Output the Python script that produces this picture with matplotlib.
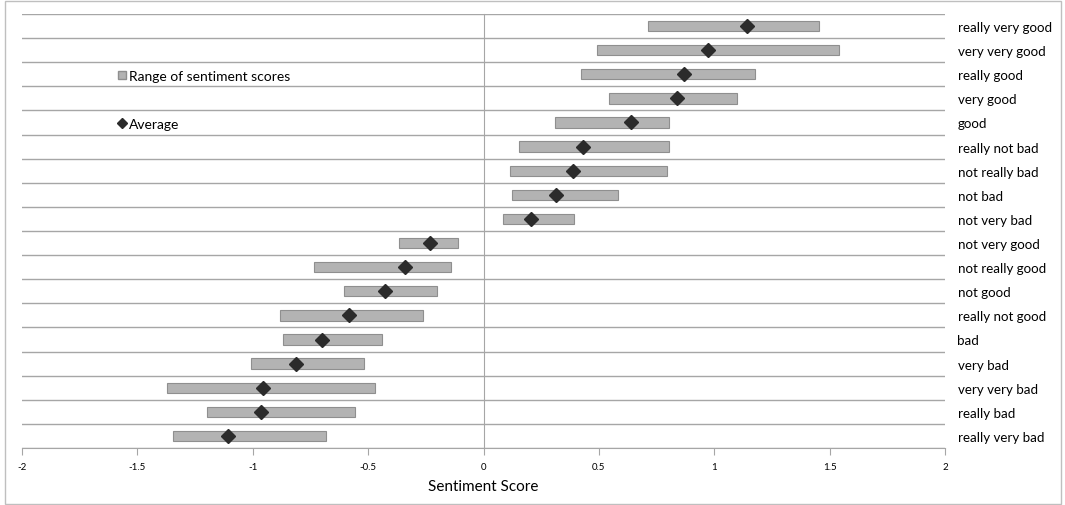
import numpy as np
import matplotlib
matplotlib.use("Agg")
import matplotlib.pyplot as plt
from matplotlib.patches import Rectangle
from matplotlib.lines import Line2D
from matplotlib.patches import Patch

plt.rcParams['font.family'] = ['Lato', 'DejaVu Sans']

# phrases, top to bottom
phrases = ["really very good", "very very good", "really good", "very good", "good",
           "really not bad", "not really bad", "not bad", "not very bad",
           "not very good", "not really good", "not good", "really not good",
           "bad", "very bad", "very very bad", "really bad", "really very bad"]
score_min = [0.715, 0.491, 0.423, 0.542, 0.309, 0.156, 0.114, 0.124, 0.084,
             -0.367, -0.735, -0.604, -0.880, -0.867, -1.008, -1.372, -1.199, -1.345]
score_max = [1.453, 1.540, 1.177, 1.099, 0.803, 0.803, 0.794, 0.584, 0.394,
             -0.110, -0.139, -0.201, -0.261, -0.438, -0.520, -0.469, -0.558, -0.682]
score_avg = [1.143, 0.974, 0.871, 0.838, 0.638, 0.430, 0.389, 0.316, 0.205,
             -0.230, -0.342, -0.426, -0.584, -0.699, -0.813, -0.955, -0.966, -1.109]

n = len(phrases)
y = np.arange(n)
lo = np.array(score_min)
hi = np.array(score_max)

grid_col = "#a6a6a6"

fig = plt.figure(figsize=(10.65, 5.06), dpi=100)
ax = fig.add_axes([22/1065, 1 - 449/506, (945 - 22)/1065, (449 - 15)/506])

ax.barh(y, hi - lo, left=lo, height=0.43, color="#b3b3b3", edgecolor="#8f8f8f",
        linewidth=0.8, zorder=3)
ax.plot(score_avg, y, linestyle="none", marker="D", markersize=6.8,
        color="#2b2b2b", zorder=4)

ax.set_xlim(-2, 2)
ax.set_ylim(n - 0.5, -0.5)
ax.set_xticks(np.arange(-2, 2.01, 0.5))
ax.set_xticklabels(["-2", "-1.5", "-1", "-0.5", "0", "0.5", "1", "1.5", "2"])
ax.tick_params(axis="x", direction="out", length=5, color=grid_col,
               labelsize=7, pad=5)

# category labels on the right, boundaries as gridlines
ax.set_yticks(y)
ax.set_yticklabels(phrases)
ax.set_yticks(np.arange(n + 1) - 0.5, minor=True)
ax.tick_params(axis="y", which="major", left=False, right=False,
               labelleft=False, labelright=True, labelsize=9.6, pad=5.5)
ax.tick_params(axis="y", which="minor", left=True, right=False,
               direction="inout", length=8, color=grid_col)
for lab in ax.get_yticklabels():
    lab.set_horizontalalignment("left")
ax.grid(axis="y", which="minor", color=grid_col, linewidth=1, zorder=0)

ax.spines["left"].set_position(("data", 0))
ax.spines["left"].set_color(grid_col)
ax.spines["bottom"].set_color(grid_col)
ax.spines["top"].set_visible(False)
ax.spines["right"].set_visible(False)

ax.set_xlabel("Sentiment Score", fontsize=11, labelpad=5.5)

handles = [Patch(facecolor="#b3b3b3", edgecolor="#8f8f8f", label="Range of sentiment scores"),
           Line2D([], [], linestyle="none", marker="D", markersize=5.5, color="#2b2b2b",
                  label="Average")]
ax.legend(handles=handles, loc="upper left", bbox_to_anchor=(0.09, 0.9),
          frameon=False, fontsize=10, labelspacing=2.6, handlelength=0.6,
          handletextpad=0.25, handleheight=0.6)

# outer frame
fig.patches.append(Rectangle((5/1065, 1/506), 1056/1065, 503/506, transform=fig.transFigure,
                             fill=False, edgecolor="#bfbfbf", linewidth=1))

fig.savefig("out.png", dpi=100)
